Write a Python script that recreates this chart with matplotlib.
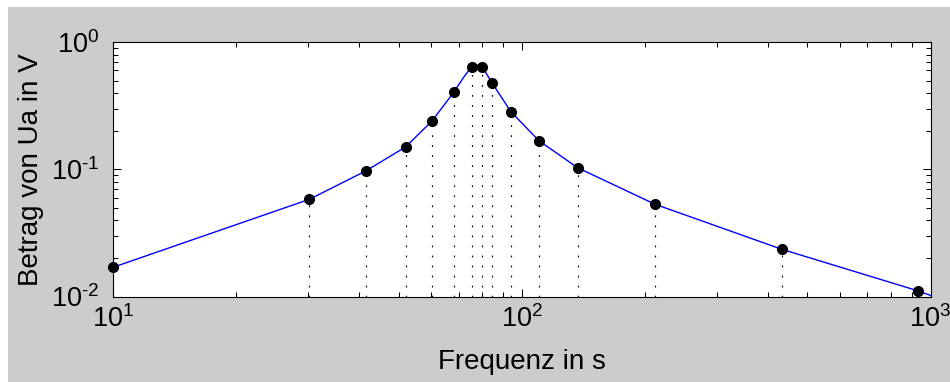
import numpy as np
import matplotlib.pyplot as plt
from matplotlib import ticker
from matplotlib.patches import Rectangle

# measured points (dots with dotted stems)
freq = [10.0, 30.2, 41.5, 51.9, 60.3, 68.2, 75.3, 79.9, 84.5, 94.0, 110.1, 136.9, 211.7, 433.0, 930.0]
ua = [0.0170, 0.0582, 0.0973, 0.150, 0.241, 0.407, 0.644, 0.644, 0.480, 0.284, 0.168, 0.103, 0.0532, 0.0235, 0.0111]

# blue curve at a few more places
curve_f = [10.0, 30.2, 41.5, 51.9, 60.3, 68.2, 72.0, 75.3, 77.6, 79.9, 84.5, 94.0, 110.1, 136.9, 211.7, 433.0, 930.0, 1000.0]
curve_ua = [0.0170, 0.0582, 0.0973, 0.150, 0.241, 0.407, 0.53, 0.644, 0.66, 0.644, 0.480, 0.284, 0.168, 0.103, 0.0532, 0.0235, 0.0111, 0.0102]

plt.rcParams["font.family"] = ["Liberation Sans", "DejaVu Sans"]
plt.rcParams["mathtext.default"] = "regular"
plt.rcParams["mathtext.fontset"] = "custom"
plt.rcParams["mathtext.rm"] = "Liberation Sans"
fontsize = 20
ticksize = 19.5
gray = '#cccccc'

fig = plt.figure(figsize=(9.5, 3.82), dpi=100, facecolor='white')
# gray figure area, leaving a thin white strip at the top and left
fig.patches.append(Rectangle((8/950, 0), 1, 1 - 7/382, transform=fig.transFigure,
                             facecolor=gray, edgecolor='none', zorder=-10))
ax = fig.add_axes([113.3/950, 1 - 296.5/382, (930.5 - 113.3)/950, (296.5 - 42.3)/382])
ax.set_facecolor('white')

ax.vlines(freq, 0.01, ua, colors='k', linestyles=(0, (1.5, 7)), linewidth=0.85, zorder=2)
ax.plot(curve_f, curve_ua, color='#0000ff', linewidth=1.0, zorder=3)
ax.plot(freq, ua, 'ko', markersize=7, clip_on=False, zorder=4)

ax.set_xscale('log')
ax.set_yscale('log')
ax.set_xlim(10, 1000)
ax.set_ylim(0.01, 1)


def pow10(v, pos):
    e = int(round(np.log10(v)))
    if e < 0:
        return r'$10^{\text{-}%d}$' % (-e)
    return r'$10^{%d}$' % e


ax.xaxis.set_major_formatter(ticker.FuncFormatter(pow10))
ax.yaxis.set_major_formatter(ticker.FuncFormatter(pow10))
ax.xaxis.set_minor_formatter(ticker.NullFormatter())
ax.yaxis.set_minor_formatter(ticker.NullFormatter())

ax.set_xlabel('Frequenz in s', fontsize=fontsize, labelpad=12)
ax.set_ylabel('Betrag von Ua in V', fontsize=fontsize, labelpad=5)

ax.tick_params(which='both', direction='in', top=True, right=True, width=0.75, labelsize=ticksize)
ax.tick_params(which='major', length=6)
ax.tick_params(which='minor', length=3.5)
ax.tick_params(axis='x', pad=6)
ax.tick_params(axis='y', pad=10)
for s in ax.spines.values():
    s.set_linewidth(0.8)

fig.savefig('out.png', dpi=100, facecolor=fig.get_facecolor())
